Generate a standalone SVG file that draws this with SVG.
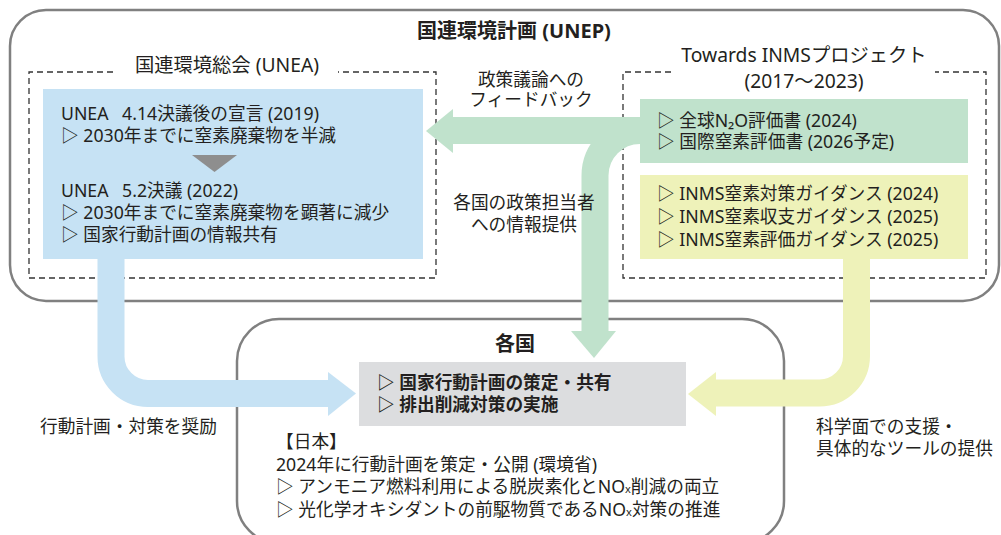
<svg xmlns="http://www.w3.org/2000/svg" width="1001" height="535" viewBox="0 0 1001 535">
<defs>
<style>
text{font-family:"Noto Sans","Noto Sans CJK JP",sans-serif;fill:#231f20;font-size:17.7px}
.b{font-weight:bold}
.t{font-size:19.3px}
.mid{text-anchor:middle}
.frame{fill:none;stroke:#808080;stroke-width:2.5}
.dash{fill:none;stroke:#333;stroke-width:1.3;stroke-dasharray:6 4}
.sh{fill:none;stroke-width:27}
.sm{font-size:11px}
</style>
</defs>
<rect width="1001" height="535" fill="#fff"/>
<g id="unep">
<rect class="frame" x="10" y="10" width="989" height="291" rx="36"/>
<text class="b mid" x="514" y="38" style="font-size:20px">国連環境計画 (UNEP)</text>
</g>
<g id="country-frame">
<rect class="frame" x="237" y="319" width="547" height="224" rx="42"/>
</g>
<g id="unea">
<path class="dash" d="M113,72 H29 V278 H436 V72 H338"/>
<text class="t mid" x="227" y="72">国連環境総会 (UNEA)</text>
</g>
<g id="inms">
<path class="dash" d="M671,72 H623 V278 H986 V72 H935"/>
<text class="t mid" x="804" y="62">Towards INMSプロジェクト</text>
<text class="t mid" x="804" y="88">(2017〜2023)</text>
</g>
<g id="connectors">
<path class="sh" stroke="#c6e2f4" d="M111,259 V356.5 A37,37 0 0 0 148,393.5 H330"/>
<polygon fill="#c6e2f4" points="328,372 356,393.5 328,416"/>
<path class="sh" stroke="#eef2b9" d="M856.5,259 V356 A37,37 0 0 1 819.5,393 H714"/>
<polygon fill="#eef2b9" points="716,372 688,394 716,416"/>
<path class="sh" stroke="#c0e2cc" d="M645,130.5 H451"/>
<polygon fill="#c0e2cc" points="453,109 426,131 453,153"/>
<path class="sh" stroke="#c0e2cc" d="M640,130.5 A45,45 0 0 0 595,175.5 V333"/>
<polygon fill="#c0e2cc" points="571,331 616,331 594,358"/>
</g>
<g id="unea-box">
<rect x="43" y="89" width="380" height="170" fill="#c6e2f4"/>
<text x="61" y="120">UNEA <tspan dx="9">4.14決議後の宣言 (2019)</tspan></text>
<text x="61" y="142">▷ 2030年までに窒素廃棄物を半減</text>
<polygon fill="#8e8e8e" points="192,155 237,155 214.5,172"/>
<text x="61" y="197">UNEA <tspan dx="9">5.2決議 (2022)</tspan></text>
<text x="61" y="219">▷ 2030年までに窒素廃棄物を顕著に減少</text>
<text x="61" y="241">▷ 国家行動計画の情報共有</text>
</g>
<g id="assessment-box">
<rect x="640" y="99" width="328" height="64" fill="#c0e2cc"/>
<text x="657" y="127">▷ 全球N₂O評価書 (2024)</text>
<text x="657" y="148">▷ 国際窒素評価書 (2026予定)</text>
</g>
<g id="guidance-box">
<rect x="640" y="175" width="328" height="84" fill="#eef2b9"/>
<text x="657" y="200">▷ INMS窒素対策ガイダンス (2024)</text>
<text x="657" y="223">▷ INMS窒素収支ガイダンス (2025)</text>
<text x="657" y="246">▷ INMS窒素評価ガイダンス (2025)</text>
</g>
<g id="labels">
<text class="mid" x="531" y="86">政策議論への</text>
<text class="mid" x="531" y="106">フィードバック</text>
<text class="mid" x="524" y="209">各国の政策担当者</text>
<text class="mid" x="524" y="231">への情報提供</text>
<text x="40" y="433">行動計画・対策を奨励</text>
<text x="816" y="433">科学面での支援・</text>
<text x="816" y="455">具体的なツールの提供</text>
</g>
<g id="countries">
<text class="b mid" x="515" y="351" style="font-size:20px">各国</text>
<rect x="359" y="362" width="327" height="64" fill="#dcdddf"/>
<text class="b" x="377" y="389">▷ 国家行動計画の策定・共有</text>
<text class="b" x="377" y="411">▷ 排出削減対策の実施</text>
<text x="276" y="448">【日本】</text>
<text x="276" y="471">2024年に行動計画を策定・公開 (環境省)</text>
<text x="276" y="493">▷ アンモニア燃料利用による脱炭素化とNO<tspan class="sm">x</tspan>削減の両立</text>
<text x="276" y="516">▷ 光化学オキシダントの前駆物質であるNO<tspan class="sm">x</tspan>対策の推進</text>
</g>
</svg>
